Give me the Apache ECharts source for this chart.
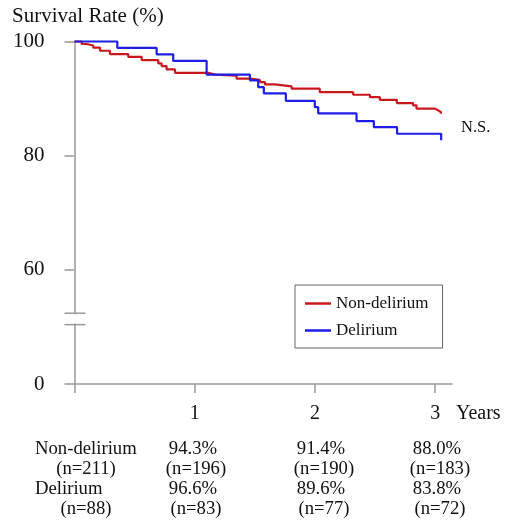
<!DOCTYPE html>
<html>
<head>
<meta charset="utf-8">
<script src="https://cdn.jsdelivr.net/npm/echarts@6/dist/echarts.min.js"></script>
<style>
html,body{margin:0;padding:0;background:#fff;}
#c{width:510px;height:528px;}
</style>
</head>
<body>
<div id="c"></div>
<script>
// ---- data ----
const nonDeliriumTime = [0, 0.060, 0.101, 0.156, 0.212, 0.295, 0.447, 0.559, 0.697, 0.725, 0.766, 0.836, 1.112, 1.168, 1.348, 1.459, 1.542, 1.584, 1.667, 1.806, 2.040, 2.318, 2.457, 2.540, 2.681, 2.816, 2.845, 2.997, 3.024, 3.047];
const nonDeliriumSurv = [100, 99.56, 99.30, 98.94, 98.38, 97.80, 97.32, 96.74, 96.16, 95.69, 95.11, 94.51, 94.19, 94.01, 93.49, 93.27, 92.89, 92.48, 92.13, 91.73, 91.13, 90.67, 90.25, 89.79, 89.22, 88.82, 88.24, 87.94, 87.64, 87.36];
const deliriumTime = [0, 0.356, 0.683, 0.821, 1.099, 1.459, 1.528, 1.575, 1.758, 1.999, 2.027, 2.346, 2.490, 2.683, 3.050];
const deliriumSurv = [100, 98.9, 97.75, 96.6, 94.2, 93.2, 92.0, 90.9, 89.6, 88.5, 87.4, 86.06, 85.0, 83.84, 82.7];

const xTickValues = [0, 1, 2, 3];
const xLabelValues = [1, 2, 3];
const yTickValues = [40, 60, 80, 100];           // axis is broken: bottom tick stands for 0
const yTickLabels = ['0', '60', '80', '100'];
const axisBreak = [50.4, 52.4];

const seriesNames = ['Non-delirium', 'Delirium'];
const tableRates = [['94.3%', '91.4%', '88.0%'], ['96.6%', '89.6%', '83.8%']];
const tableN0 = [211, 88];
const tableN = [[196, 190, 183], [83, 77, 72]];

// ---- chart ----
const FONT = "'Liberation Serif','Times New Roman',serif";
const TF = '18.7px ' + FONT;
const chart = echarts.init(document.getElementById('c'));
const pairs = (t, s) => t.map((v, i) => [v, s[i]]);

const tableGraphics = [];
const colCenters = [193, 321, 437];
const rowY = [[449, 469], [489, 509]];
seriesNames.forEach((name, r) => {
  tableGraphics.push({type: 'text', x: 35, y: rowY[r][0],
    style: {text: name, font: TF, fill: '#111', align: 'left', verticalAlign: 'middle'}});
  tableGraphics.push({type: 'text', x: 86, y: rowY[r][1],
    style: {text: '(n=' + tableN0[r] + ')', font: TF, fill: '#111', align: 'center', verticalAlign: 'middle'}});
  for (let c = 0; c < 3; c++) {
    tableGraphics.push({type: 'text', x: colCenters[c], y: rowY[r][0],
      style: {text: tableRates[r][c], font: TF, fill: '#111', align: 'center', verticalAlign: 'middle'}});
    tableGraphics.push({type: 'text', x: colCenters[c] + 3, y: rowY[r][1],
      style: {text: '(n=' + tableN[r][c] + ')', font: TF, fill: '#111', align: 'center', verticalAlign: 'middle'}});
  }
});

const option = {
  animation: false,
  backgroundColor: '#fff',
  title: {
    text: 'Survival Rate (%)', left: 12, top: 6, padding: 0,
    textStyle: {fontFamily: FONT, fontSize: 21, fontWeight: 'normal', color: '#111'}
  },
  grid: {left: 74.5, right: 58, top: 41.5, bottom: 144, containLabel: false},
  xAxis: {
    type: 'value', min: 0, max: 3.14,
    axisLine: {show: true, onZero: false, lineStyle: {color: '#999', width: 1.5}},
    axisTick: {show: true, inside: false, length: 9, customValues: xTickValues, lineStyle: {color: '#999', width: 1.5}},
    axisLabel: {customValues: xLabelValues, margin: 20, fontFamily: FONT, fontSize: 20, color: '#111'},
    splitLine: {show: false}
  },
  yAxis: {
    type: 'value', min: 40, max: 100,
    axisLine: {show: true, lineStyle: {color: '#999', width: 1.5}},
    axisTick: {show: true, inside: false, length: 10, customValues: yTickValues, lineStyle: {color: '#999', width: 1.5}},
    axisLabel: {customValues: yTickValues, margin: 30, fontFamily: FONT, fontSize: 21, color: '#111',
      padding: [3, 0, 0, 0],
      formatter: v => yTickLabels[yTickValues.indexOf(v)]},
    splitLine: {show: false}
  },
  legend: {
    orient: 'vertical', left: 295, top: 285,
    padding: [10, 14, 9, 10], itemGap: 10,
    borderColor: '#666', borderWidth: 1,
    icon: 'rect', itemWidth: 26, itemHeight: 2.5,
    textStyle: {fontFamily: FONT, fontSize: 17, lineHeight: 17, color: '#111'},
    data: seriesNames
  },
  series: [
    {name: seriesNames[0], type: 'line', step: 'end', showSymbol: false, symbol: 'none', clip: false,
      lineStyle: {color: '#c8181e', width: 2.2}, itemStyle: {color: '#c8181e'},
      data: pairs(nonDeliriumTime, nonDeliriumSurv)},
    {name: seriesNames[1], type: 'line', step: 'end', showSymbol: false, symbol: 'none', clip: false,
      lineStyle: {color: '#1e1ee6', width: 2.2}, itemStyle: {color: '#1e1ee6'},
      data: pairs(deliriumTime, deliriumSurv)}
  ],
  graphic: [
    {type: 'text', left: 461, top: 119, style: {text: 'N.S.', font: '16.5px ' + FONT, fill: '#111'}},
    {type: 'text', left: 456, top: 404, style: {text: 'Years', font: '20px ' + FONT, fill: '#111'}}
  ].concat(tableGraphics)
};
chart.setOption(option);

// axis break marks on the y axis
const pTop = chart.convertToPixel({gridIndex: 0}, [0, axisBreak[1]]);
const pBot = chart.convertToPixel({gridIndex: 0}, [0, axisBreak[0]]);
chart.setOption({
  graphic: option.graphic.concat([
    {type: 'rect', shape: {x: pTop[0] - 3, y: pTop[1] + 1, width: 6, height: pBot[1] - pTop[1] - 2}, style: {fill: '#fff'}, z: 100},
    {type: 'line', shape: {x1: pTop[0] - 10, y1: pTop[1], x2: pTop[0] + 11, y2: pTop[1]}, style: {stroke: '#999', lineWidth: 1.5}, z: 101},
    {type: 'line', shape: {x1: pBot[0] - 10, y1: pBot[1], x2: pBot[0] + 11, y2: pBot[1]}, style: {stroke: '#999', lineWidth: 1.5}, z: 101}
  ])
});
</script>
</body>
</html>
